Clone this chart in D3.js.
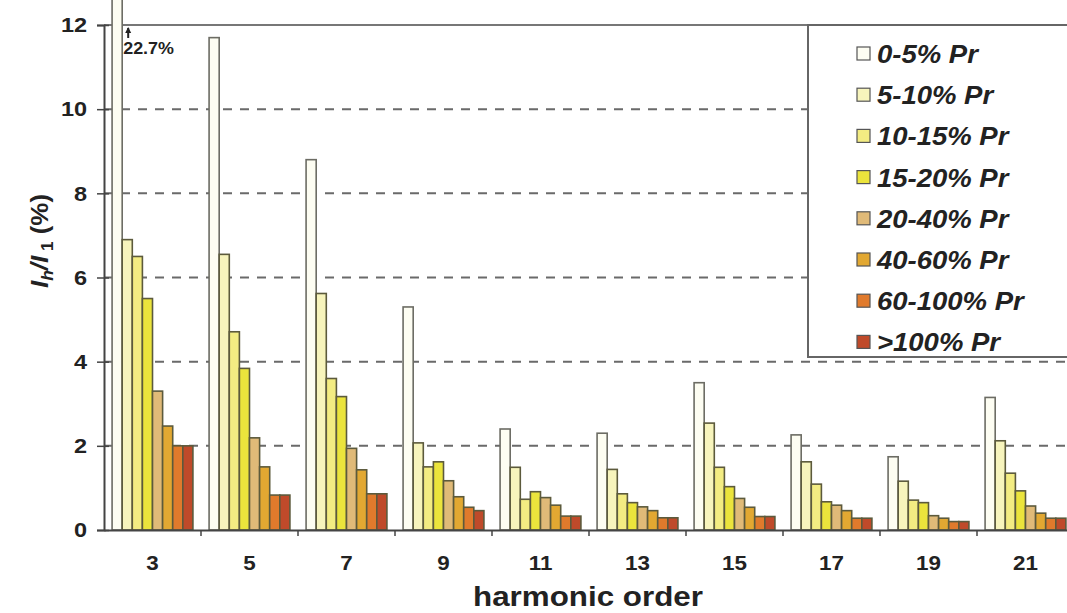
<!DOCTYPE html>
<html>
<head>
<meta charset="utf-8">
<script src="https://cdn.jsdelivr.net/npm/d3@7"></script>
<style>
  body { margin: 0; background: #fff; }
  svg { display: block; font-family: "Liberation Sans", Arial, sans-serif; }
</style>
</head>
<body>
<div id="chart"></div>
<script>
// harmonic orders on the x axis
var harmonics = ["3", "5", "7", "9", "11", "13", "15", "17", "19", "21"];
var seriesNames = ["0-5% Pr", "5-10% Pr", "10-15% Pr", "15-20% Pr",
                   "20-40% Pr", "40-60% Pr", "60-100% Pr", ">100% Pr"];
var seriesColors = ["#fdfdf2", "#f7f4bc", "#f3ec82", "#ebe43c",
                    "#e0ba78", "#e2a832", "#e07a2c", "#bf4a2a"];

// Ih/I1 (%) per power class
var p0_5    = [22.7, 11.7, 8.8, 5.3, 2.4, 2.3, 3.5, 2.26, 1.74, 3.15];
var p5_10   = [6.9, 6.55, 5.62, 2.07, 1.49, 1.44, 2.54, 1.62, 1.16, 2.12];
var p10_15  = [6.5, 4.71, 3.6, 1.5, 0.73, 0.86, 1.49, 1.09, 0.71, 1.35];
var p15_20  = [5.5, 3.84, 3.17, 1.62, 0.91, 0.65, 1.03, 0.67, 0.65, 0.93];
var p20_40  = [3.3, 2.19, 1.94, 1.17, 0.77, 0.55, 0.75, 0.59, 0.34, 0.57];
var p40_60  = [2.47, 1.5, 1.43, 0.79, 0.59, 0.46, 0.54, 0.46, 0.28, 0.4];
var p60_100 = [2.0, 0.83, 0.86, 0.54, 0.33, 0.29, 0.32, 0.28, 0.2, 0.28];
var p100    = [2.0, 0.83, 0.86, 0.46, 0.33, 0.29, 0.32, 0.28, 0.2, 0.28];
var series = [p0_5, p5_10, p10_15, p15_20, p20_40, p40_60, p60_100, p100];

var yTicks = [0, 2, 4, 6, 8, 10, 12];
var gridValues = [2, 4, 6, 8, 10];

var width = 1067, height = 613;
var plotLeft = 104, plotRight = 1074, plotTop = 25, plotBottom = 530;
var stretch = 1.12; // the source text is a bit wide

var svg = d3.select("#chart").append("svg")
    .attr("width", width)
    .attr("height", height);

var x = d3.scaleBand().domain(harmonics).range([plotLeft, plotRight]);
var xSub = d3.scaleBand().domain(d3.range(seriesNames.length))
    .range([0, x.bandwidth()]).paddingOuter(0.8);
var y = d3.scaleLinear().domain([0, 12]).range([plotBottom, plotTop]);

// dashed gridlines
svg.append("g").selectAll("line")
    .data(gridValues)
    .enter().append("line")
    .attr("x1", plotLeft).attr("x2", width)
    .attr("y1", function(d) { return y(d); })
    .attr("y2", function(d) { return y(d); })
    .attr("stroke", "#6a6a6a")
    .attr("stroke-width", 2)
    .attr("stroke-dasharray", "9,8");

// top frame line
svg.append("line")
    .attr("x1", plotLeft).attr("x2", width)
    .attr("y1", plotTop).attr("y2", plotTop)
    .attr("stroke", "#777").attr("stroke-width", 2);

// bars
var groups = svg.append("g").selectAll("g")
    .data(harmonics)
    .enter().append("g")
    .attr("transform", function(d) { return "translate(" + x(d) + ",0)"; });

groups.selectAll("rect")
    .data(function(d, i) {
        return series.map(function(s, k) { return { k: k, v: s[i] }; });
    })
    .enter().append("rect")
    .attr("x", function(d) { return xSub(d.k); })
    .attr("width", xSub.bandwidth())
    .attr("y", function(d) { return Math.max(y(d.v), -5); })
    .attr("height", function(d) { return plotBottom - Math.max(y(d.v), -5); })
    .attr("fill", function(d) { return seriesColors[d.k]; })
    .attr("stroke", function(d) { return d.k == 0 ? "#6c6c64" : "#5c5a3c"; })
    .attr("stroke-width", 1.6);

// off-scale note for 3rd harmonic
var bx = x("3") + xSub(0) + xSub.bandwidth() + 6;
svg.append("line")
    .attr("x1", bx).attr("x2", bx)
    .attr("y1", 38).attr("y2", 28)
    .attr("stroke", "#222").attr("stroke-width", 2);
svg.append("path")
    .attr("d", "M" + (bx - 3) + ",33 L" + bx + ",27 L" + (bx + 3) + ",33 Z")
    .attr("fill", "#222");
svg.append("text")
    .attr("transform", "translate(" + (bx - 5) + ",54) scale(" + stretch + ",1)")
    .attr("font-size", 16).attr("font-weight", "bold")
    .attr("fill", "#222")
    .text(p0_5[0] + "%");

// y axis
var yAxis = svg.append("g")
    .attr("transform", "translate(" + plotLeft + ",0)")
    .call(d3.axisLeft(y).tickValues(yTicks).tickSize(7).tickPadding(8));
yAxis.select(".domain").attr("stroke", "#444").attr("stroke-width", 2);
yAxis.selectAll(".tick line").attr("x2", -7).attr("x1", 5)
    .attr("stroke", "#444").attr("stroke-width", 1.5);
yAxis.selectAll(".tick text")
    .attr("font-size", 21).attr("font-weight", "bold").attr("fill", "#222")
    .attr("font-family", "Liberation Sans, Arial, sans-serif")
    .attr("transform", "scale(" + stretch + ",1)");

// x axis
var xAxis = svg.append("g")
    .attr("transform", "translate(0," + plotBottom + ")")
    .call(d3.axisBottom(x).tickSize(0).tickPadding(26));
xAxis.select(".domain").attr("stroke", "#444").attr("stroke-width", 2);
xAxis.selectAll(".tick text")
    .attr("font-size", 20).attr("font-weight", "bold").attr("fill", "#222")
    .attr("font-family", "Liberation Sans, Arial, sans-serif")
    .attr("transform", "scale(" + stretch + ",1)");
// ticks between groups
xAxis.append("g").selectAll("line")
    .data(harmonics.slice(1))
    .enter().append("line")
    .attr("x1", function(d) { return x(d); })
    .attr("x2", function(d) { return x(d); })
    .attr("y1", 0).attr("y2", 6)
    .attr("stroke", "#444").attr("stroke-width", 1.5);

svg.append("text")
    .attr("transform", "translate(588,606) scale(" + stretch + ",1)")
    .attr("text-anchor", "middle")
    .attr("font-size", 28).attr("font-weight", "bold").attr("fill", "#222")
    .text("harmonic order");

// y title: Ih/I1 (%)
var yt = svg.append("text")
    .attr("transform", "translate(48,241) rotate(-90) scale(1.08,1)")
    .attr("text-anchor", "middle")
    .attr("font-size", 24).attr("font-weight", "bold").attr("fill", "#222");
yt.append("tspan").attr("font-style", "italic").text("I");
yt.append("tspan").attr("font-style", "italic").attr("font-size", 16).attr("dy", 5).text("h");
yt.append("tspan").attr("font-style", "italic").attr("dy", -5).text("/");
yt.append("tspan").attr("font-style", "italic").text("I");
yt.append("tspan").attr("font-size", 16).attr("dy", 5).text(" 1");
yt.append("tspan").attr("dy", -5).text(" (%)");

// legend
var lg = svg.append("g");
lg.append("rect")
    .attr("x", 808).attr("y", plotTop).attr("width", 280).attr("height", 332)
    .attr("fill", "#fff").attr("stroke", "#666").attr("stroke-width", 2);
var items = lg.selectAll("g.item")
    .data(seriesNames)
    .enter().append("g").attr("class", "item")
    .attr("transform", function(d, i) { return "translate(857," + (54 + i * 41.2) + ")"; });
items.append("rect")
    .attr("x", 0).attr("y", -7).attr("width", 13).attr("height", 13)
    .attr("fill", function(d, i) { return seriesColors[i]; })
    .attr("stroke", "#555").attr("stroke-width", 1.2);
items.append("text")
    .attr("transform", "translate(20,9) scale(1.1,1)")
    .attr("font-size", 25).attr("font-weight", "bold").attr("font-style", "italic")
    .attr("fill", "#222")
    .text(function(d) { return d; });
</script>
</body>
</html>
